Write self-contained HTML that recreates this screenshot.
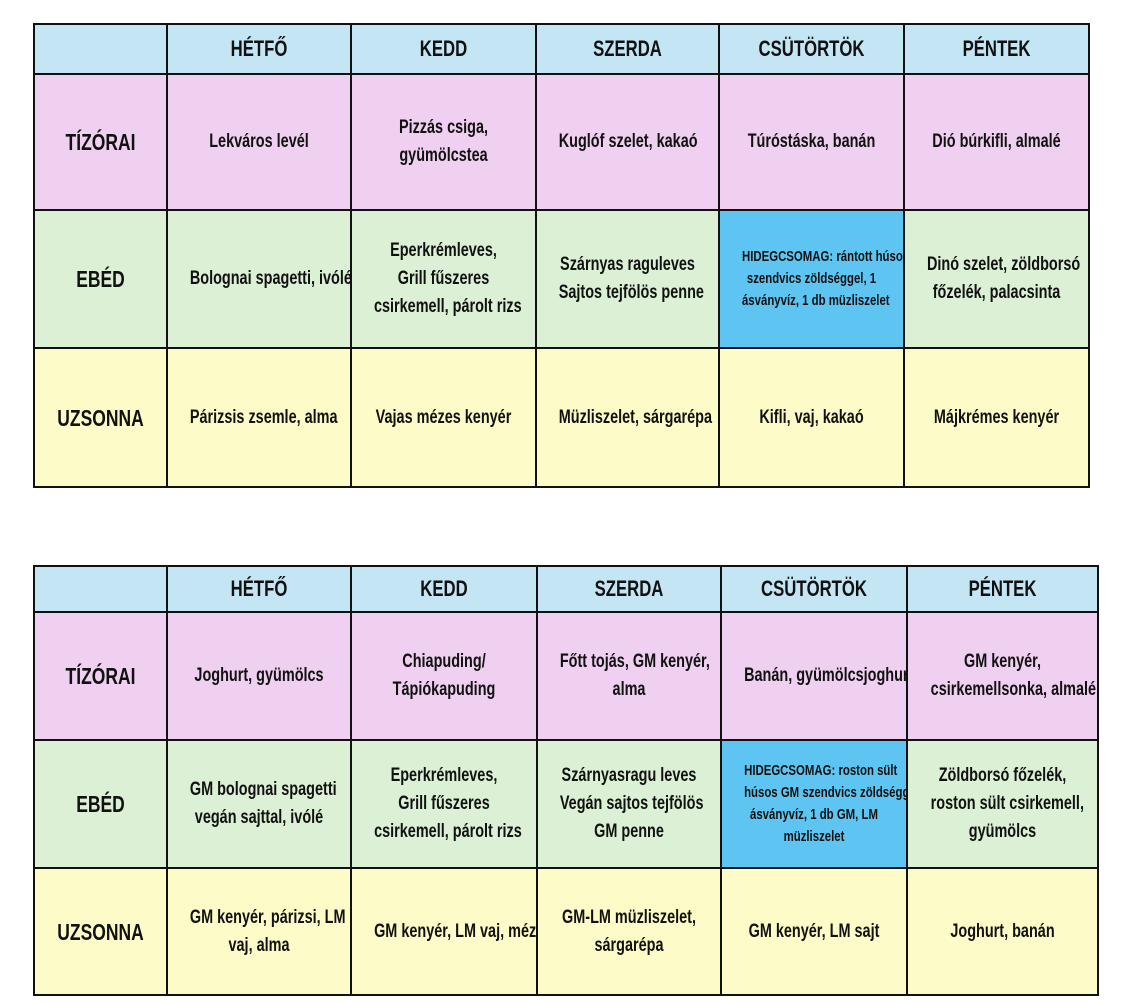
<!DOCTYPE html>
<html><head><meta charset="utf-8"><style>
body{margin:0;width:1123px;height:1003px;background:#fff;position:relative;overflow:hidden;font-family:"Liberation Sans Narrow","Liberation Sans",sans-serif;font-weight:bold;color:#111}
table{position:absolute;border-collapse:collapse;table-layout:fixed}
td{border:2px solid #111;text-align:center;vertical-align:middle;font-size:19px;line-height:28px;padding:0;overflow:hidden}
td>div{white-space:nowrap;transform:scaleX(.76);transform-origin:center}
.h td{background:#c3e5f4;font-size:22px}
.p td{background:#f0d0f0}
.g td{background:#dcf0d5}
.y td{background:#fdfcc8}
td.rl{font-size:23px}
td.b{background:#5ec4f1 !important;font-size:15px;line-height:22px}
</style></head><body>
<table style="left:33px;top:23px;width:1055px">
<colgroup><col style="width:133px"><col style="width:184px"><col style="width:185px"><col style="width:183px"><col style="width:185px"><col style="width:185px"></colgroup>
<tr class="h" style="height:50px"><td></td><td><div>HÉTFŐ</div></td><td><div>KEDD</div></td><td><div>SZERDA</div></td><td><div>CSÜTÖRTÖK</div></td><td><div>PÉNTEK</div></td></tr>
<tr class="p" style="height:136px"><td class="rl"><div>TÍZÓRAI</div></td><td><div>Lekváros levél</div></td><td><div>Pizzás csiga,<br>gyümölcstea</div></td><td><div>Kuglóf szelet, kakaó</div></td><td><div>Túróstáska, banán</div></td><td><div>Dió búrkifli, almalé</div></td></tr>
<tr class="g" style="height:138px"><td class="rl"><div>EBÉD</div></td><td><div>Bolognai spagetti, ivólé</div></td><td><div>Eperkrémleves,<br>Grill fűszeres<br>csirkemell, párolt rizs</div></td><td><div>Szárnyas raguleves<br>Sajtos tejfölös penne</div></td><td class="b"><div>HIDEGCSOMAG: rántott húsos<br>szendvics zöldséggel, 1<br>ásványvíz, 1 db müzliszelet</div></td><td><div>Dinó szelet, zöldborsó<br>főzelék, palacsinta</div></td></tr>
<tr class="y" style="height:139px"><td class="rl"><div>UZSONNA</div></td><td><div>Párizsis zsemle, alma</div></td><td><div>Vajas mézes kenyér</div></td><td><div>Müzliszelet, sárgarépa</div></td><td><div>Kifli, vaj, kakaó</div></td><td><div>Májkrémes kenyér</div></td></tr>
</table>
<table style="left:33px;top:565px;width:1064px">
<colgroup><col style="width:133px"><col style="width:184px"><col style="width:186px"><col style="width:184px"><col style="width:186px"><col style="width:191px"></colgroup>
<tr class="h" style="height:46px"><td></td><td><div>HÉTFŐ</div></td><td><div>KEDD</div></td><td><div>SZERDA</div></td><td><div>CSÜTÖRTÖK</div></td><td><div>PÉNTEK</div></td></tr>
<tr class="p" style="height:128px"><td class="rl"><div>TÍZÓRAI</div></td><td><div>Joghurt, gyümölcs</div></td><td><div>Chiapuding/<br>Tápiókapuding</div></td><td><div>Főtt tojás, GM kenyér,<br>alma</div></td><td><div>Banán, gyümölcsjoghurt</div></td><td><div>GM kenyér,<br>csirkemellsonka, almalé</div></td></tr>
<tr class="g" style="height:128px"><td class="rl"><div>EBÉD</div></td><td><div>GM bolognai spagetti<br>vegán sajttal, ivólé</div></td><td><div>Eperkrémleves,<br>Grill fűszeres<br>csirkemell, párolt rizs</div></td><td><div>Szárnyasragu leves<br>Vegán sajtos tejfölös<br>GM penne</div></td><td class="b"><div>HIDEGCSOMAG: roston sült<br>húsos GM szendvics zöldséggel,<br>ásványvíz, 1 db GM, LM<br>müzliszelet</div></td><td><div>Zöldborsó főzelék,<br>roston sült csirkemell,<br>gyümölcs</div></td></tr>
<tr class="y" style="height:127px"><td class="rl"><div>UZSONNA</div></td><td><div>GM kenyér, párizsi, LM<br>vaj, alma</div></td><td><div>GM kenyér, LM vaj, méz</div></td><td><div>GM-LM müzliszelet,<br>sárgarépa</div></td><td><div>GM kenyér, LM sajt</div></td><td><div>Joghurt, banán</div></td></tr>
</table>
</body></html>
